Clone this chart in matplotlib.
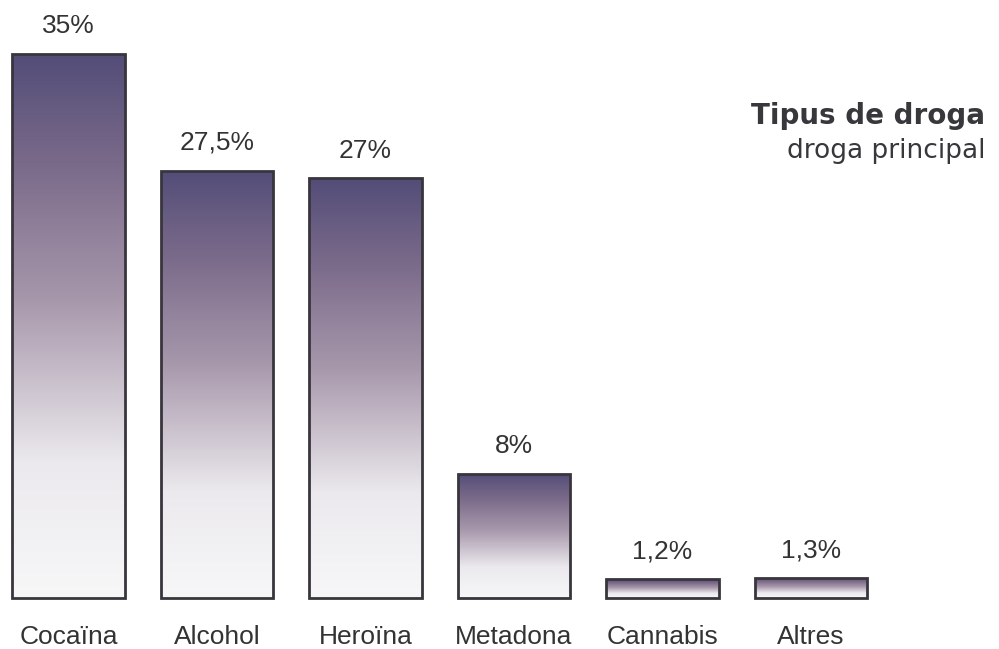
import matplotlib.pyplot as plt
import numpy as np
from matplotlib.colors import LinearSegmentedColormap

categories = ['Cocaïna', 'Alcohol', 'Heroïna', 'Metadona', 'Cannabis', 'Altres']
values = [35, 27.5, 27, 8, 1.2, 1.3]
value_labels = ['35%', '27,5%', '27%', '8%', '1,2%', '1,3%']

plt.rcParams['font.family'] = ['Liberation Sans', 'DejaVu Sans']

fig = plt.figure(figsize=(9.99, 6.49), dpi=100)
ax = fig.add_axes([0, 0, 1, 1])
ax.set_xlim(-0.461, 6.266)
ax.set_ylim(-3.28, 38.48)
ax.axis('off')

# gradient from purple (top) to white (bottom)
cmap = LinearSegmentedColormap.from_list('grad', [
    (0.0, '#f7f7f8'), (0.25, '#ebe9ed'), (0.55, '#a797ab'),
    (0.8, '#7a6a8a'), (1.0, '#534d78')])
grad = np.linspace(0, 1, 256).reshape(-1, 1)

x = np.arange(len(categories))
w = 0.76
bars = ax.bar(x, values, width=w, facecolor='none', edgecolor='#38363c',
              linewidth=2, zorder=3)
for b in bars:
    x0, y0 = b.get_x(), b.get_y()
    im = ax.imshow(grad, cmap=cmap, aspect='auto', origin='lower',
                   extent=[x0, x0 + b.get_width(), y0, y0 + b.get_height()],
                   zorder=2)
    im.set_clip_path(b)

for xi, v, lab in zip(x, values, value_labels):
    ax.annotate(lab, (xi, v), xytext=(0, 20), textcoords='offset points',
                ha='center', va='center', fontsize=19, color='#333333')

for xi, c in zip(x, categories):
    ax.annotate(c, (xi, 0), xytext=(0, -28), textcoords='offset points',
                ha='center', va='center', fontsize=19, color='#333333')

fig.text(0.986, 0.821, 'Tipus de droga', ha='right', va='center',
         fontsize=20, fontweight='bold', color='#38373c', family='DejaVu Sans')
fig.text(0.986, 0.768, 'droga principal', ha='right', va='center',
         fontsize=19, color='#38373c', family='DejaVu Sans')

fig.savefig('out.png', dpi=100)
